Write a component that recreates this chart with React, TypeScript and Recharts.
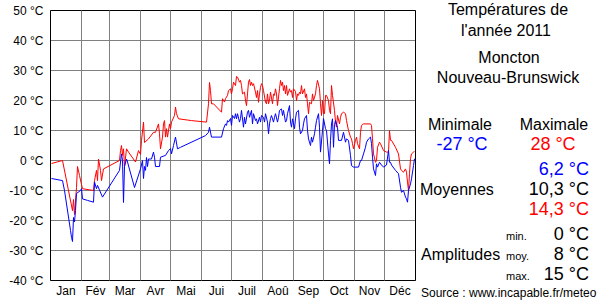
import { LineChart, Line, XAxis, YAxis, CartesianGrid, ReferenceLine, ReferenceArea } from "recharts";

const monthLabels = ["Jan", "Fév", "Mar", "Avr", "Mai", "Jui", "Juil", "Aoû", "Sep", "Oct", "Nov", "Déc"];
const monthStarts = [0, 31, 59, 90, 120, 151, 181, 212, 243, 273, 304, 334, 365];
const tempTicks = [-40, -30, -20, -10, 0, 10, 20, 30, 40, 50];

// daily maxima (red), day of year -> °C
const maxDays = [
  1, 12, 22, 23, 24, 26, 27, 29, 31, 32, 43, 44, 46, 47, 48, 50, 51, 53, 69, 70,
  71, 72, 73, 74, 76, 78, 85, 88, 90, 91, 93, 94, 98, 103, 105, 108, 109, 110, 112, 113,
  114, 115, 116, 117, 119, 120, 121, 124, 125, 126, 128, 141, 156, 158, 159, 160, 161, 163, 171, 172,
  174, 175, 177, 178, 180, 181, 182, 183, 185, 186, 187, 189, 190, 191, 192, 194, 195, 196, 197, 198,
  199, 200, 201, 202, 203, 205, 206, 207, 208, 209, 210, 211, 212, 213, 215, 216, 217, 218, 219, 220,
  222, 223, 224, 225, 226, 227, 229, 230, 231, 232, 233, 234, 235, 236, 237, 239, 240, 241, 242, 243,
  245, 246, 247, 248, 249, 250, 251, 252, 254, 255, 256, 257, 258, 259, 261, 262, 263, 265, 266, 267,
  269, 270, 271, 272, 273, 274, 275, 276, 278, 279, 280, 281, 282, 284, 285, 286, 287, 289, 290, 291,
  293, 295, 296, 298, 300, 301, 302, 303, 305, 306, 307, 309, 310, 311, 313, 320, 321, 322, 323, 325,
  326, 327, 329, 330, 333, 336, 338, 339, 340, 341, 345, 348, 350, 351, 353, 355, 356, 357, 358, 359,
  360, 361, 363, 364,
];
const maxTemps = [
  -1, 0, -16.7, -13, -18, -9, -2, -5, -8, -9.4, -10, -6.7, -3.3, -6.7, 0.5, -3.3, -6.7, -2.8, 0, 3.3,
  5, 1.7, 3.9, -2, 3.9, 2.8, -0.5, 3.3, 2, 6.7, 12.8, 6, 7.2, 9.4, 9.4, 12.2, 8.9, 3.9, 7.8, 12.2,
  13.3, 7.8, 10.6, 7.8, 12.2, 10.6, 12.8, 15, 17.8, 15.6, 13.9, 13.3, 12.8, 18.9, 26, 23.3, 18.9, 18.9, 16.1, 20.6,
  19.5, 20.6, 21.7, 23.3, 23.9, 22.2, 23.9, 26.1, 25, 28, 27.8, 26.1, 26.7, 25, 22.2, 22.8, 20, 18.3, 22.2, 26.1,
  27, 25, 26.1, 25, 25.6, 22.8, 21, 23.3, 19.4, 22.2, 24.4, 25.6, 25, 23.3, 19.4, 18.9, 22.2, 18.9, 20, 22.8,
  18.9, 22.2, 21.7, 23.9, 22.2, 18.3, 23.9, 26.7, 25, 26.1, 23.3, 25, 22.2, 25, 21.7, 23.9, 22.8, 23.3, 21, 23.9,
  23, 20, 22.2, 21.7, 22.8, 22.2, 25, 22.2, 23.9, 21, 22.2, 18.9, 15.6, 19.4, 18.9, 22.2, 20, 22.2, 25, 26.7,
  23.9, 18.9, 15, 20, 15.6, 15.6, 21.7, 21.7, 20, 16.7, 15.6, 25, 21.7, 16.7, 12.8, 11.1, 15, 12.2, 14.4, 15.6,
  16.1, 15.6, 13.3, 10, 7.8, 7.2, 5.6, 3.9, 6.7, 7.8, 5.6, 3.9, 9.4, 11.7, 12.2, 12.2, 11.7, 7.2, 2.2, -0.6,
  0, 4.4, 6.1, 5.6, 3.3, 2.8, 2.8, 10, 6.7, 6.7, 4.4, 2.2, -2.8, -3.3, -3.9, -2.8, -3.9, -7.2, -10, -4.4,
  0.6, 2.2, 2.8, 3,
];

// daily minima (blue), day of year -> °C
const minDays = [
  1, 12, 14, 20, 21, 22, 23, 24, 25, 26, 30, 31, 32, 37, 43, 44, 46, 47, 52, 69,
  71, 72, 73, 74, 76, 77, 84, 90, 92, 93, 94, 95, 96, 97, 98, 101, 103, 104, 105, 109,
  110, 115, 118, 120, 121, 123, 125, 127, 130, 155, 158, 159, 161, 171, 173, 175, 176, 177, 178, 180,
  181, 182, 184, 185, 186, 187, 189, 190, 191, 193, 194, 195, 197, 198, 199, 201, 202, 203, 205, 206,
  207, 209, 210, 211, 213, 214, 215, 217, 218, 219, 220, 221, 223, 224, 225, 227, 228, 229, 231, 232,
  233, 235, 236, 237, 239, 240, 241, 242, 244, 245, 246, 248, 249, 250, 252, 253, 254, 256, 257, 258,
  260, 261, 262, 264, 265, 266, 268, 269, 270, 272, 273, 275, 276, 278, 279, 280, 281, 282, 283, 284,
  285, 287, 288, 291, 293, 295, 296, 298, 300, 301, 303, 308, 310, 311, 313, 315, 316, 318, 320, 321,
  322, 323, 325, 326, 327, 329, 331, 333, 336, 338, 339, 340, 341, 345, 348, 350, 351, 353, 355, 356,
  357, 358, 360, 361, 363, 364,
];
const minTemps = [
  -6, -6.7, -10, -23.3, -25.6, -27, -19, -20.5, -16.7, -11, -10, -9.4, -12.8, -13.3, -13.9, -7.2, -9.4, -8.3, -12.2, -3.3,
  2.2, 0, -14, -2, 0.5, -0.5, -9, -2.8, 0, -6, -2, -3.3, 1, -2, 0.5, 0.5, 2.8, 1.1, -2, -2,
  1.1, 1.7, 3.3, 4, 2.2, 5, 7.8, 3.9, 4.4, 8.3, 9.4, 11.1, 7.8, 7.8, 10.6, 12.2, 11.7, 13.3, 12.8, 14,
  11.7, 15, 14, 15.6, 13.9, 15.6, 12.8, 14, 16.7, 11.1, 14.4, 12.2, 16.1, 16.7, 14.4, 16.7, 12.2, 15.6, 13.3, 13.9,
  12.2, 14.4, 12.8, 15, 14.4, 12.8, 15.6, 12.8, 8.9, 12.2, 14, 15, 12.8, 14.4, 15.6, 12.8, 14.4, 16.7, 17.2, 15,
  16.7, 12.8, 13.3, 15.6, 18.3, 12.8, 11.1, 13.9, 10.6, 13.9, 16.1, 16.7, 11.1, 8.9, 10, 12.2, 13.9, 15, 10, 7.2,
  5, 7.8, 6.1, 8.9, 11.1, 13.3, 15.6, 11.1, 2.8, 10, 14, 10.6, 10, 2.2, -1.1, 6.7, 12.2, 13.9, 4.4, 12,
  13.3, 11.1, 6.7, 6.7, 9.4, 6.1, 7.2, 6.7, 1.7, -1.7, -2.2, -2.2, 0, 0, 2.2, 4.4, 6.1, 7.2, 7.8, 5.6,
  1.1, -2.8, -5, -1.1, -2.2, -0.6, -1.5, -2.2, -1.5, 3.3, -0.6, -0.6, -1.5, -3.3, -4.4, -8.9, -10.6, -10, -12.2, -12.8,
  -13.9, -10, -7.8, -6.1, -1.7, 0.6,
];

const maxData = maxDays.map((day, i) => ({ day, t: maxTemps[i] }));
const minData = minDays.map((day, i) => ({ day, t: minTemps[i] }));
const monthMids = monthLabels.map((_, i) => (monthStarts[i] + monthStarts[i + 1]) / 2);

const font = "Arial, 'Liberation Sans', sans-serif";

export default function App() {
  return (
    <div style={{ position: "absolute", left: 0, top: 0, width: 600, height: 300, background: "#fff" }}>
      <LineChart width={600} height={300} margin={{ top: 10.5, right: 184.5, left: 0, bottom: 0 }}>
        <CartesianGrid vertical={false} stroke="#808080" strokeWidth={1} />
        {monthStarts.slice(1, -1).map((d) => (
          <ReferenceLine key={d} x={d} stroke="#808080" strokeWidth={1} />
        ))}
        <XAxis
          type="number"
          dataKey="day"
          domain={[0, 365]}
          ticks={monthMids}
          tickFormatter={(v) => monthLabels[monthMids.indexOf(v)]}
          axisLine={false}
          tickLine={false}
          tickSize={4}
          tickMargin={2}
          height={19.5}
          interval={0}
          tick={{ fontSize: 12, fill: "#000", fontFamily: font }}
        />
        <YAxis
          type="number"
          domain={[-40, 50]}
          ticks={tempTicks}
          tickFormatter={(v) => `${v} °C`}
          axisLine={false}
          tickLine={false}
          tickSize={5}
          tickMargin={2}
          width={50.5}
          interval={0}
          tick={{ fontSize: 12, fill: "#000", fontFamily: font }}
        />
        <ReferenceArea x1={0} x2={365} y1={-40} y2={50} fill="none" stroke="#000" strokeWidth={1} fillOpacity={0} />
        <Line data={maxData} dataKey="t" type="linear" stroke="#ff0000" strokeWidth={1} dot={false} isAnimationActive={false} />
        <Line data={minData} dataKey="t" type="linear" stroke="#0000ff" strokeWidth={1} dot={false} isAnimationActive={false} />
      </LineChart>
      <svg width={600} height={300} style={{ position: "absolute", left: 0, top: 0, pointerEvents: "none" }} fontFamily={font}>
        <text x={508} y={15} textAnchor="middle" fontSize={16}>Températures de</text>
        <text x={506} y={35.5} textAnchor="middle" fontSize={16}>l'année 2011</text>
        <text x={509} y={62.5} textAnchor="middle" fontSize={16}>Moncton</text>
        <text x={508} y={82.5} textAnchor="middle" fontSize={16}>Nouveau-Brunswick</text>
        <text x={460} y={130} textAnchor="middle" fontSize={16}>Minimale</text>
        <text x={554} y={130} textAnchor="middle" fontSize={16}>Maximale</text>
        <text x={462} y={150} textAnchor="middle" fontSize={18} fill="#0000ff">-27 °C</text>
        <text x={553} y={150} textAnchor="middle" fontSize={18} fill="#ff0000">28 °C</text>
        <text x={589} y={175} textAnchor="end" fontSize={18} fill="#0000ff">6,2 °C</text>
        <text x={420} y={195} fontSize={16}>Moyennes</text>
        <text x={589} y={195} textAnchor="end" fontSize={18}>10,3 °C</text>
        <text x={589} y={215} textAnchor="end" fontSize={18} fill="#ff0000">14,3 °C</text>
        <text x={506} y={240} fontSize={11}>min.</text>
        <text x={589} y={240} textAnchor="end" fontSize={18}>0 °C</text>
        <text x={421} y={260} fontSize={16}>Amplitudes</text>
        <text x={506} y={260} fontSize={11}>moy.</text>
        <text x={589} y={260} textAnchor="end" fontSize={18}>8 °C</text>
        <text x={506} y={279.5} fontSize={11}>max.</text>
        <text x={589} y={280} textAnchor="end" fontSize={18}>15 °C</text>
        <text x={421} y={297} fontSize={12}>Source : www.incapable.fr/meteo</text>
      </svg>
    </div>
  );
}
